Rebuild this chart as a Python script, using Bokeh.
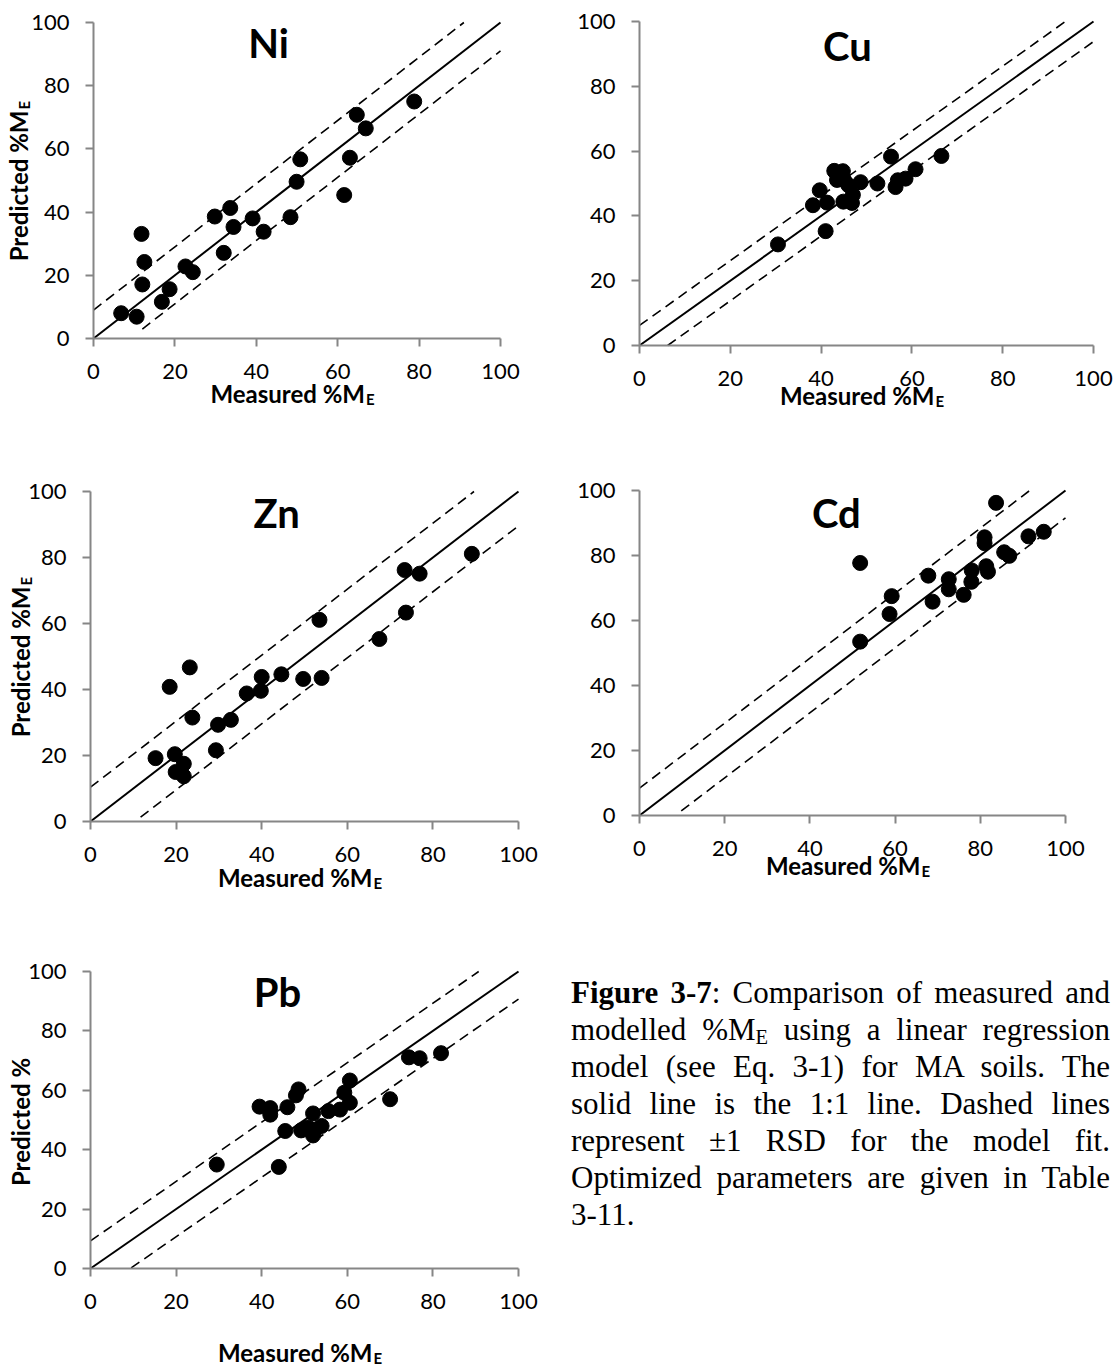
import math
from bokeh.plotting import figure
from bokeh.models import Range1d, FixedTicker, Label, Div
from bokeh.layouts import row, column
from bokeh.embed import file_html
from bokeh.resources import INLINE
from bokeh.core.properties import value

# ---------------- data ----------------
tick_values = [0, 20, 40, 60, 80, 100]
tick_labels = ["0", "20", "40", "60", "80", "100"]

ni_measured = [6.8, 10.6, 11.8, 12.5, 12.0, 16.8, 18.7, 22.6, 24.4, 29.8, 32.0, 33.6,
               34.4, 39.1, 41.8, 48.4, 49.9, 50.8, 61.6, 63.0, 64.7, 66.9, 78.8]
ni_predicted = [8.0, 6.9, 33.1, 24.2, 17.1, 11.6, 15.6, 22.8, 21.0, 38.6, 27.1, 41.3,
                35.3, 38.0, 33.8, 38.4, 49.6, 56.7, 45.4, 57.2, 70.8, 66.5, 75.0]

cu_measured = [30.5, 38.2, 39.7, 41.0, 41.3, 42.9, 43.5, 44.8, 45.1, 44.9, 46.0, 46.8,
               47.0, 48.7, 52.4, 55.4, 56.4, 56.9, 58.6, 60.8, 66.5]
cu_predicted = [31.2, 43.3, 47.9, 35.3, 44.1, 53.9, 51.1, 53.8, 51.0, 44.4, 49.5, 44.0,
                46.5, 50.4, 50.0, 58.3, 48.9, 51.0, 51.5, 54.4, 58.5]

zn_measured = [15.2, 18.5, 19.7, 19.9, 21.8, 21.8, 23.2, 23.8, 29.3, 29.8, 32.8, 36.5,
               39.8, 40.0, 44.6, 49.7, 54.0, 53.5, 67.5, 73.4, 73.7, 76.9, 89.1]
zn_predicted = [19.2, 40.8, 20.4, 15.0, 17.5, 13.7, 46.7, 31.5, 21.6, 29.3, 30.8, 38.8,
                39.6, 43.8, 44.6, 43.2, 43.5, 61.1, 55.3, 76.2, 63.3, 75.1, 81.1]

cd_measured = [51.8, 51.8, 58.7, 59.2, 67.8, 68.8, 72.6, 72.6, 76.1, 77.9, 78.0, 81.0,
               81.0, 81.4, 81.8, 83.7, 85.6, 86.8, 91.3, 94.9]
cd_predicted = [77.7, 53.5, 62.0, 67.5, 73.8, 65.8, 72.7, 69.6, 67.9, 71.9, 75.4, 85.6,
                83.8, 76.7, 75.0, 96.2, 81.0, 79.9, 85.9, 87.3]

pb_measured = [29.5, 39.5, 42.0, 42.0, 44.0, 45.5, 46.0, 48.0, 48.6, 49.2, 50.8, 52.0,
               52.0, 52.6, 54.0, 55.6, 58.3, 59.3, 60.6, 60.6, 70.0, 74.4, 76.9, 81.9]
pb_predicted = [35.0, 54.5, 54.0, 51.8, 34.2, 46.3, 54.3, 58.3, 60.3, 46.5, 47.5, 52.2,
                44.8, 46.8, 48.0, 53.0, 53.5, 59.2, 63.3, 55.8, 57.0, 71.1, 70.8, 72.5]

# +/- 1 RSD band offsets and start of the lower dashed line (x)
rsd_band = {"Ni": 9.0, "Cu": 6.2, "Zn": 10.4, "Cd": 8.4, "Pb": 9.3}
lower_start = {"Ni": 12.0, "Cu": 6.2, "Zn": 11.7, "Cd": 9.8, "Pb": 9.5}
one_to_one = [0, 100]

# ---------------- styling ----------------
AXIS_GRAY = "#868686"
SANS = "Lato"


def panel(name, xm, yp, W, H, L, R, T, B, title_pos, xlabel_dy,
          ylabel=None, ylabel_dx=0, ylabel_sub=True):
    # the frame covers the whole figure; the 0-100 data box sits at L/R/T/B px from the edges
    fw = W - L - R
    fh = H - T - B
    xr = Range1d(-L * 100.0 / fw, 100 + R * 100.0 / fw)
    yr = Range1d(-B * 100.0 / fh, 100 + T * 100.0 / fh)
    p = figure(width=W, height=H, x_range=xr, y_range=yr,
               output_backend="svg", toolbar_location=None, tools="",
               min_border_left=0, min_border_right=0, min_border_top=0, min_border_bottom=0)
    p.xgrid.visible = False
    p.ygrid.visible = False
    p.outline_line_color = None
    for ax in (p.xaxis[0], p.yaxis[0]):
        ax.fixed_location = 0
        ax.bounds = (0, 100)
        ax.ticker = FixedTicker(ticks=tick_values)
        ax.major_label_overrides = {v: s for v, s in zip(tick_values, tick_labels)}
        ax.axis_line_color = AXIS_GRAY
        ax.axis_line_width = 2
        ax.major_tick_line_color = AXIS_GRAY
        ax.major_tick_line_width = 2
        ax.major_tick_in = 0
        ax.major_tick_out = 8
        ax.minor_tick_line_color = None
        ax.major_label_text_font = SANS
        ax.major_label_text_font_size = "22px"
        ax.major_label_text_color = "black"
    p.xaxis[0].major_label_standoff = 17
    p.yaxis[0].major_label_standoff = 16

    band = rsd_band[name]
    x0 = lower_start[name]
    p.line(one_to_one, one_to_one, line_color="black", line_width=2)
    p.line([0, 100 - band], [band, 100], line_color="black", line_width=1.6, line_dash="10 6")
    p.line([x0, 100], [x0 - band, 100 - band], line_color="black", line_width=1.6, line_dash="10 6")
    p.scatter(xm, yp, size=15, marker="circle", fill_color="black", line_color="black")

    p.text(x=[title_pos[0]], y=[title_pos[1]], text=[name], text_font=value(SANS),
           text_font_style="bold", text_font_size="40px", text_align="center",
           text_baseline="middle", text_color="black")

    common = dict(x_units="data", y_units="data", text_font=SANS, text_font_style="bold",
                  text_color="black", text_baseline="alphabetic")
    p.add_layout(Label(x=50, y=0, x_offset=68, y_offset=-xlabel_dy, text="Measured %M",
                       text_font_size="24px", text_align="right", **common))
    p.add_layout(Label(x=50, y=0, x_offset=69, y_offset=-xlabel_dy - 5, text="E",
                       text_font_size="15px", text_align="left", **common))
    if ylabel is not None:
        if ylabel_sub:
            p.add_layout(Label(x=0, y=50, x_offset=ylabel_dx, y_offset=70, angle=math.pi / 2,
                               text=ylabel, text_font_size="24px", text_align="right", **common))
            p.add_layout(Label(x=0, y=50, x_offset=ylabel_dx + 5, y_offset=71, angle=math.pi / 2,
                               text="E", text_font_size="15px", text_align="left", **common))
        else:
            p.add_layout(Label(x=0, y=50, x_offset=ylabel_dx, y_offset=-2, angle=math.pi / 2,
                               text=ylabel, text_font_size="24px", text_align="center", **common))
    return p


ni = panel("Ni", ni_measured, ni_predicted, 560, 460, 93, 60, 22, 122, (43, 93.5), 55,
           "Predicted %M", -75)
cu = panel("Cu", cu_measured, cu_predicted, 557, 460, 79, 24, 21, 115, (45.8, 92.3), 50)
zn = panel("Zn", zn_measured, zn_predicted, 560, 480, 90, 42, 31, 119, (43.5, 93.6), 56,
           "Predicted %M", -70)
cd = panel("Cd", cd_measured, cd_predicted, 557, 480, 79, 52, 30, 125, (46.2, 93.2), 50)
pb = panel("Pb", pb_measured, pb_predicted, 560, 427, 90, 42, 31, 99, (43.7, 93.2), 84,
           "Predicted %", -70, ylabel_sub=False)

caption_lines = [
    "<b>Figure 3-7</b>: Comparison of measured and",
    "modelled %M<span style='font-size:0.66em; vertical-align:-0.18em; line-height:0'>E</span> using a linear regression",
    "model (see Eq. 3-1) for MA soils. The",
    "solid line is the 1:1 line. Dashed lines",
    "represent \u00b11 RSD for the model fit.",
    "Optimized parameters are given in Table",
    "3-11.",
]
inner = "".join(
    f"<div style='text-align:justify; text-align-last:justify; white-space:nowrap'>{t}</div>"
    for t in caption_lines[:-1]
) + f"<div style='text-align:left'>{caption_lines[-1]}</div>"
caption_html = (
    "<div style=\"margin-left:6px; margin-top:29px; width:539px; "
    "font-family:'Liberation Serif','Times New Roman',serif; font-size:31px; "
    "line-height:37px; color:#000;\">" + inner + "</div>"
)
caption = Div(text=caption_html, width=557, height=427)

layout = column(row(ni, cu), row(zn, cd), row(pb, caption))

open("out.html", "w").write(file_html(layout, INLINE))
